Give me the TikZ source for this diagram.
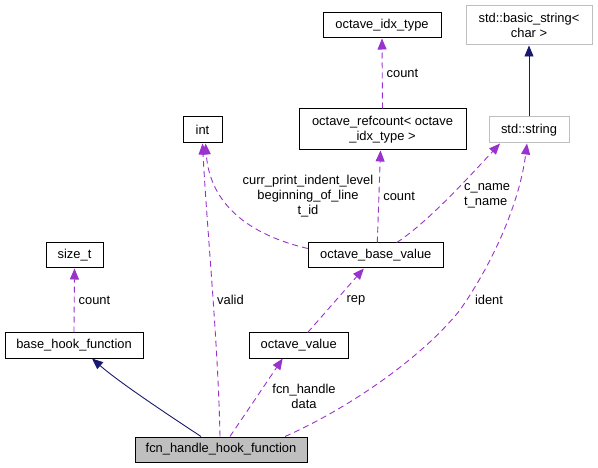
\documentclass[tikz,border=0pt]{standalone}
\usepackage{fontspec}
\setmainfont{Liberation Sans}
\usetikzlibrary{arrows.meta}
\definecolor{depcol}{HTML}{9A32CD}
\definecolor{inhcol}{HTML}{191970}
\definecolor{extgray}{HTML}{BFBFBF}
\newcommand{\docfont}{\fontsize{12.9}{15}\selectfont}
\begin{document}
\begin{tikzpicture}[x=1pt, y=-1pt, >={Triangle[length=11pt, width=9pt]},
    every node/.style={font=\docfont, inner sep=0pt, align=center, text=black},
    cls/.style={draw=black, line width=1pt, minimum height=25pt},
    ext/.style={cls, draw=extgray},
    dep/.style={->, depcol, line width=0.9pt, dash pattern=on 6pt off 4pt},
    inh/.style={->, inhcol, line width=0.9pt},
    lbl/.style={inner sep=4pt}]
    \useasboundingbox (0,0) rectangle (598,468);
    % classes
    \node[cls, minimum width=118pt] (idx) at (382, 25.5) {octave\_idx\_type};
    \node[ext, minimum width=126pt, minimum height=39pt] (bstr) at (529, 25.5) {std::basic\_string<\\char >};
    \node[cls, minimum width=39pt, minimum height=26pt] (int) at (202.5, 130) {int};
    \node[cls, minimum width=167pt, minimum height=41pt] (refcnt) at (382.5, 129.5) {octave\_refcount< octave\\\_idx\_type >};
    \node[ext, minimum width=80pt, minimum height=26pt] (str) at (529, 130) {std::string};
    \node[cls, minimum width=135pt] (obv) at (375.8, 255.5) {octave\_base\_value};
    \node[cls, minimum width=57pt] (sizet) at (74.5, 255.5) {size\_t};
    \node[cls, minimum width=138pt] (bhf) at (74, 345.5) {base\_hook\_function};
    \node[cls, minimum width=99pt] (ov) at (298.7, 345.5) {octave\_value};
    \node[cls, minimum width=172pt, fill=extgray] (fhhf) at (221, 449.5) {fcn\_handle\_hook\_function};
    % inheritance
    \draw[inh] (str.north) -- (bstr.south);
    \draw[inh] ([xshift=-20pt]fhhf.north) .. controls (170,416) and (120,383) .. ([xshift=18pt]bhf.south);
    % members
    \draw[dep] (refcnt.north) -- node[lbl, right] (cnt1) {count} (idx.south);
    \draw[dep] ([xshift=1.5pt]obv.north) -- node[lbl, right] (cnt2) {count} ([xshift=-2pt]refcnt.south);
    \draw[dep] (bhf.north) -- node[lbl, right] (cnt3) {count} (sizet.south);
    \draw[dep] ([yshift=7pt]obv.west) .. controls (250,235) and (210,205) .. ([xshift=3pt]int.south);
    \node (ints) at (308, 196) {curr\_print\_indent\_level\\beginning\_of\_line\\t\_id};
    \draw[dep] ([xshift=21pt]obv.north) .. controls (428,222) and (468,178) .. ([xshift=-29pt]str.south);
    \node[anchor=west, align=left] (names) at (464, 196) {c\_name\\t\_name};
    \draw[dep] ([xshift=-1pt]fhhf.north) .. controls (218,340) and (207,230) .. (int.south);
    \node (valid) at (230.5, 300) {valid};
    \draw[dep] ([xshift=9pt]fhhf.north) -- ([xshift=-16pt]ov.south);
    \node (hdl) at (304, 396) {fcn\_handle\\data};
    \draw[dep] ([xshift=9pt]ov.north) -- ([xshift=-12pt]obv.south);
    \node (rep) at (356, 300) {rep};
    \draw[dep] ([xshift=64pt]fhhf.north) .. controls (345,410) and (420,360) .. (460,310)
        .. controls (495,260) and (520,200) .. ([xshift=-2pt]str.south);
    \node (ident) at (489, 300) {ident};
\end{tikzpicture}
\end{document}
